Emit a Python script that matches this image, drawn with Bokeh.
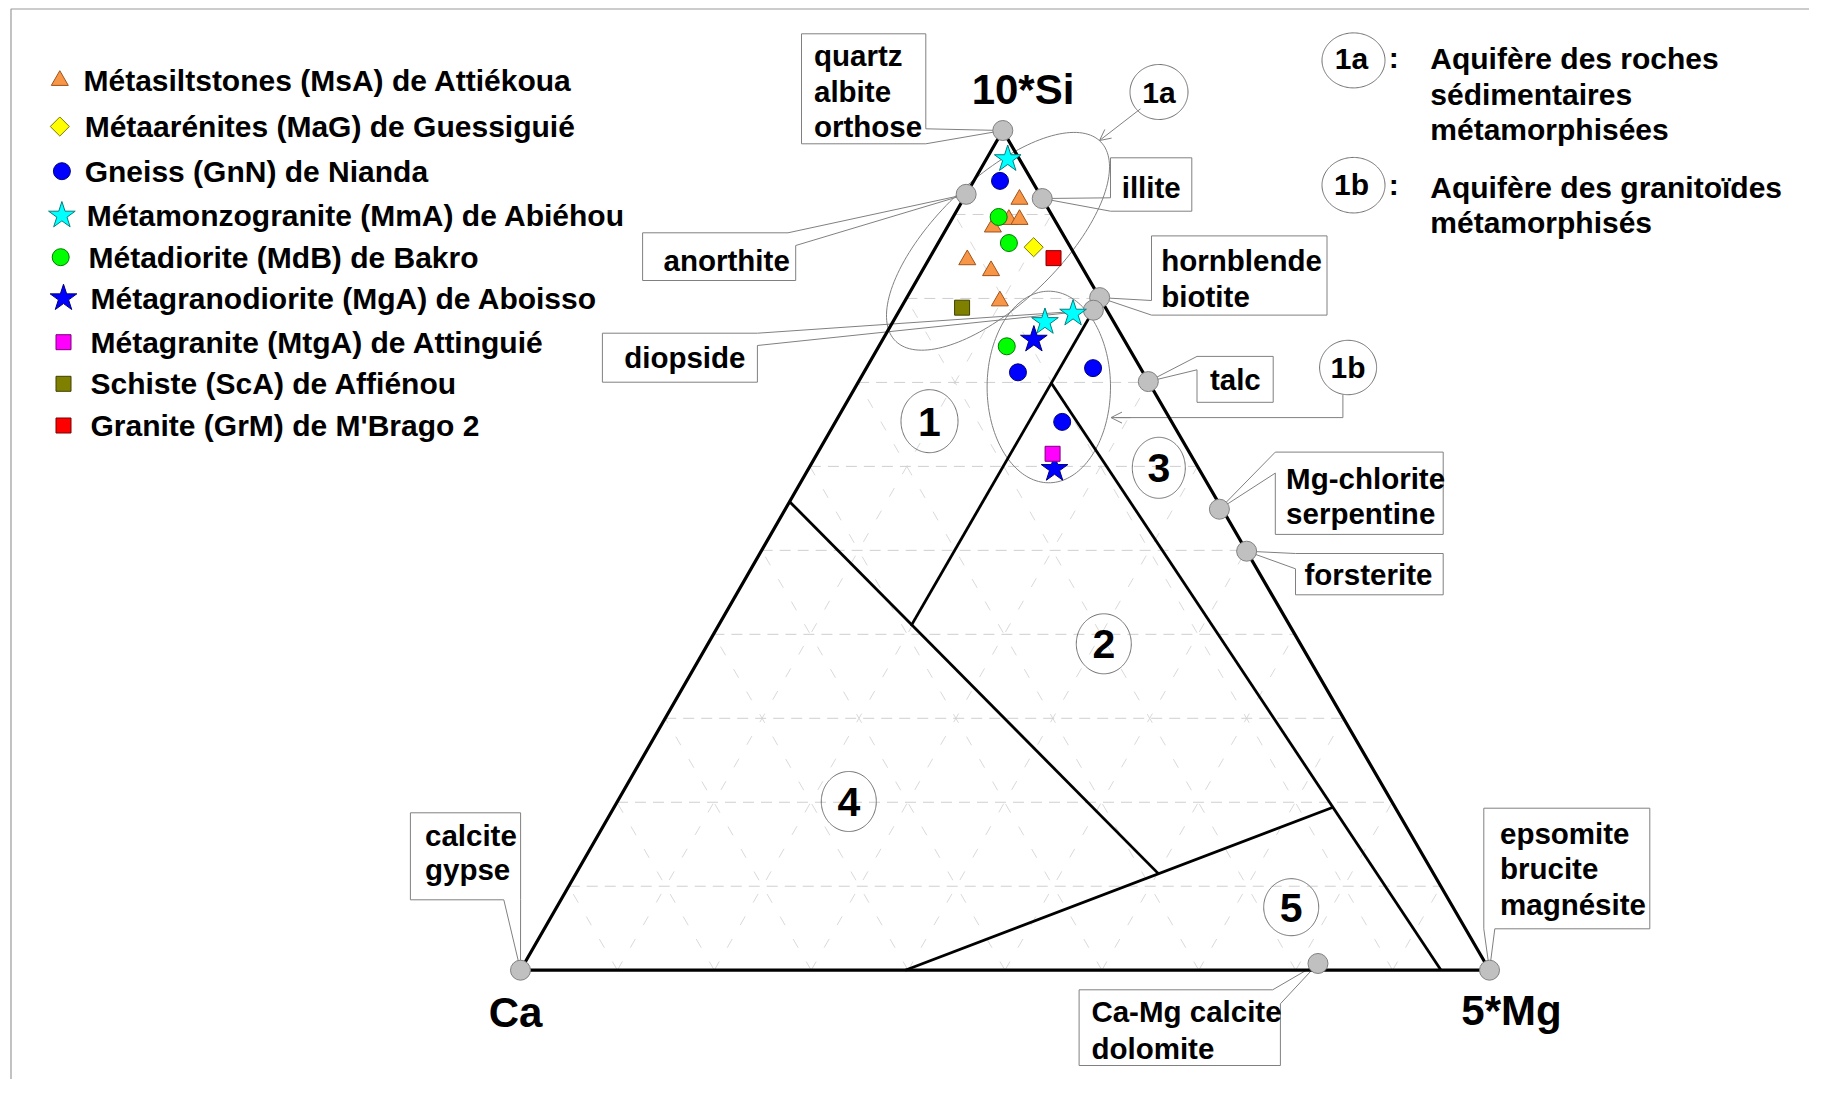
import numpy as np
from bokeh.plotting import figure
from bokeh.models import Range1d, Arrow, OpenHead
from bokeh.core.properties import value
from bokeh.embed import file_html
from bokeh.resources import INLINE

# ------------------------------------------------------------------
# DATA  (compositions in % of the normalised sum 10*Si + Ca + 5*Mg)
# ------------------------------------------------------------------
APEX_LABELS = ["10*Si", "Ca", "5*Mg"]

SERIES_LABELS = [
    "Métasiltstones (MsA) de Attiékoua",
    "Métaarénites (MaG) de Guessiguié",
    "Gneiss (GnN) de Nianda",
    "Métamonzogranite (MmA) de Abiéhou",
    "Métadiorite (MdB) de Bakro",
    "Métagranodiorite (MgA) de Aboisso",
    "Métagranite (MtgA) de Attinguié",
    "Schiste (ScA) de Affiénou",
    "Granite (GrM) de M'Brago 2",
]

MSA_SI = [91.8, 89.4, 89.4, 88.5, 84.6, 83.3, 79.7]
MSA_CA = [2.4, 4.7, 3.6, 6.8, 11.4, 9.6, 10.5]
MSA_MG = [5.8, 5.9, 7.0, 4.7, 4.0, 7.1, 9.8]

MAG_SI = [86.1]
MAG_CA = [3.8]
MAG_MG = [10.1]

GNN_SI = [94.0, 71.2, 71.7, 65.3]
GNN_CA = [3.3, 12.9, 4.9, 11.3]
GNN_MG = [2.7, 15.9, 23.4, 23.4]

MMA_SI = [96.6, 78.2, 77.2]
MMA_CA = [1.2, 3.7, 7.1]
MMA_MG = [2.2, 18.1, 15.7]

MDB_SI = [89.7, 86.6, 74.3]
MDB_CA = [5.6, 6.1, 12.5]
MDB_MG = [4.7, 7.3, 13.2]

MGA_SI = [75.1, 59.7]
MGA_CA = [9.3, 14.9]
MGA_MG = [15.6, 25.4]

MTGA_SI = [61.5]
MTGA_CA = [14.2]
MTGA_MG = [24.3]

SCA_SI = [78.9]
SCA_CA = [14.8]
SCA_MG = [6.3]

GRM_SI = [84.8]
GRM_CA = [2.4]
GRM_MG = [12.8]

MINERAL_LABELS = [
    ["quartz", "albite", "orthose"],
    ["anorthite"],
    ["illite"],
    ["hornblende", "biotite"],
    ["diopside"],
    ["talc"],
    ["Mg-chlorite", "serpentine"],
    ["forsterite"],
    ["calcite", "gypse"],
    ["epsomite", "brucite", "magnésite"],
    ["Ca-Mg calcite", "dolomite"],
]
MINERAL_SI = [100.0, 92.4, 91.9, 80.1, 78.6, 70.1, 54.9, 49.9, 0.0, 0.0, 0.8]
MINERAL_CA = [0.0, 7.6, 0.0, 0.0, 1.4, 0.0, 0.3, 0.0, 100.0, 0.0, 17.3]
MINERAL_MG = [0.0, 0.0, 8.1, 19.9, 20.0, 29.9, 44.8, 50.1, 0.0, 100.0, 81.9]

# field boundaries (start, end)
BOUND_SI = [[55.8, 11.5], [78.6, 41.0], [69.9, 0.0], [0.0, 19.4]]
BOUND_CA = [[44.2, 28.4], [1.4, 39.1], [10.1, 5.0], [60.3, 6.4]]
BOUND_MG = [[0.0, 60.1], [20.0, 19.9], [20.0, 95.0], [39.7, 74.2]]

GRID_LEVELS = [10, 20, 30, 40, 50, 60, 70, 80, 90]

FIELD_LABELS = ["1", "2", "3", "4", "5"]
GROUP_LABELS = ["1a", "1b"]
GROUP_TEXT = [["Aquifère des roches", "sédimentaires", "métamorphisées"],
              ["Aquifère des granitoïdes", "métamorphisés"]]

# ------------------------------------------------------------------
# LAYOUT (data range == screenshot pixel coordinates)
# ------------------------------------------------------------------
SI_XY = (1002.3, 130.0)
CA_XY = (520.0, 969.7)
MG_XY = (1489.0, 969.7)

FONT = value("Liberation Sans")


def tern(si, ca, mg):
    si = np.asarray(si, dtype=float)
    ca = np.asarray(ca, dtype=float)
    mg = np.asarray(mg, dtype=float)
    tot = si + ca + mg
    x = (si * SI_XY[0] + ca * CA_XY[0] + mg * MG_XY[0]) / tot
    y = (si * SI_XY[1] + ca * CA_XY[1] + mg * MG_XY[1]) / tot
    return x, y


def ellipse_pts(cx, cy, a, b, ang_deg=0.0, n=160):
    t = np.linspace(0, 2 * np.pi, n)
    ang = np.radians(ang_deg)
    ux, uy = np.cos(ang), -np.sin(ang)
    vx, vy = np.sin(ang), np.cos(ang)
    x = cx + a * np.cos(t) * ux + b * np.sin(t) * vx
    y = cy + a * np.cos(t) * uy + b * np.sin(t) * vy
    return list(x), list(y)


def perim_s(pt, l, t, r, b):
    x, y = pt
    w, h = r - l, b - t
    d = [abs(y - t), abs(x - r), abs(y - b), abs(x - l)]
    e = int(np.argmin(d))
    if e == 0:
        return x - l
    if e == 1:
        return w + (y - t)
    if e == 2:
        return w + h + (r - x)
    return 2 * w + h + (b - y)


def callout_poly(box, p1, p2, target):
    l, t, r, b = box
    w, h = r - l, b - t
    P = 2 * w + 2 * h
    s1 = perim_s(p1, l, t, r, b)
    s2 = perim_s(p2, l, t, r, b)
    span = (s1 - s2) % P
    corners = [(0, (l, t)), (w, (r, t)), (w + h, (r, b)), (2 * w + h, (l, b))]
    corners.sort(key=lambda c: (c[0] - s2) % P)
    pts = [p2]
    for cs, c in corners:
        d = (cs - s2) % P
        if 1e-6 < d < span - 1e-6:
            pts.append(c)
    pts.append(p1)
    pts.append(target)
    return [q[0] for q in pts], [q[1] for q in pts]


# box (l, t, r, b), pointer base points, text x, text line centres
CALLOUTS = [
    dict(box=(801, 33.3, 925.3, 143.3), p1=(925.3, 128.3), p2=(925.3, 143.3), tx=813.5, ty=[55, 90.5, 126]),
    dict(box=(642.1, 232.3, 795.2, 280), p1=(787.5, 232.3), p2=(795.2, 245), tx=663.1, ty=[259.5]),
    dict(box=(1110, 157.3, 1191.3, 210.7), p1=(1110, 210.7), p2=(1110, 197.3), tx=1121.2, ty=[187.3]),
    dict(box=(1151, 235.4, 1326.5, 314.6), p1=(1151, 314.6), p2=(1151, 300), tx=1160.8, ty=[259.7, 295.7]),
    dict(box=(601.9, 332.7, 756.9, 381.7), p1=(756.9, 332.7), p2=(756.9, 345), tx=623.7, ty=[357]),
    dict(box=(1196.5, 355.9, 1272.7, 401.8), p1=(1196.5, 369.3), p2=(1196.5, 355.9), tx=1209.4, ty=[378.8]),
    dict(box=(1274.8, 451.6, 1442.7, 533.9), p1=(1274.8, 472.6), p2=(1274.8, 451.6), tx=1285.6, ty=[478, 512.7]),
    dict(box=(1295, 553, 1442.7, 594.3), p1=(1295, 568.3), p2=(1295, 553), tx=1304, ty=[573.5]),
    dict(box=(409.9, 812.3, 520.1, 899.3), p1=(520.1, 899.3), p2=(503.3, 899.3), tx=424.5, ty=[835, 869]),
    dict(box=(1483.3, 807.7, 1649.3, 928.3), p1=(1494.3, 928.3), p2=(1483.3, 928.3), tx=1499.5, ty=[832.5, 868, 903.5]),
    dict(box=(1078.6, 989.3, 1279.9, 1065), p1=(1272.2, 989.3), p2=(1279.9, 1003.3), tx=1090.9, ty=[1011, 1047.5]),
]

SAMPLES = [
    (MSA_SI, MSA_CA, MSA_MG),
    (MAG_SI, MAG_CA, MAG_MG),
    (GNN_SI, GNN_CA, GNN_MG),
    (MMA_SI, MMA_CA, MMA_MG),
    (MDB_SI, MDB_CA, MDB_MG),
    (MGA_SI, MGA_CA, MGA_MG),
    (MTGA_SI, MTGA_CA, MTGA_MG),
    (SCA_SI, SCA_CA, SCA_MG),
    (GRM_SI, GRM_CA, GRM_MG),
]
# marker, fill, outline, size, angle
STYLES = [
    ("triangle", "#F79646", "#A0521A", 17, 0.0),
    ("square", "#FFFF00", "#7A7A00", 13.5, np.pi / 4),
    ("circle", "#0000FF", "#00007A", 17, 0.0),
    ("star", "#00FFFF", "#007F7F", 28, 0.0),
    ("circle", "#00FF00", "#007A00", 17, 0.0),
    ("star", "#0000FF", "#00007A", 28, 0.0),
    ("square", "#FF00FF", "#7A007A", 15, 0.0),
    ("square", "#808000", "#404000", 15, 0.0),
    ("square", "#FF0000", "#7A0000", 15, 0.0),
]
LEG_MX = [59.3, 59.3, 61.4, 61.4, 60.2, 63, 63, 63, 63]
LEG_TX = [83, 84.2, 84.2, 86.3, 88, 90, 90, 90, 90]
LEG_Y = [80, 126, 170.7, 215, 256.7, 297.7, 341.7, 383.3, 425]

FIELD_POS = [(929, 420.7, 57, 63), (1103.3, 643.3, 55, 60), (1158.3, 467.3, 53, 61),
             (848.3, 801, 55, 60), (1290.7, 906.7, 55, 57)]
GROUP_POS = [(1158.5, 91.5, 58, 55), (1347.6, 367.0, 57, 54.4)]
KEY_POS = [(1353, 59.9, 63, 55), (1353, 184.7, 63, 55.5)]
KEY_TEXT_Y = [[58.3, 94.0, 129.3], [187.4, 222.3]]

# ------------------------------------------------------------------
p = figure(width=1809, height=1079,
           x_range=Range1d(0, 1809), y_range=Range1d(1079, 0),
           x_axis_type=None, y_axis_type=None,
           toolbar_location=None, output_backend="svg", min_border=0,
           background_fill_color="white", border_fill_color="white",
           outline_line_color=None)

GREY = "#808080"

# frame lines (top and left) of the original drawing
p.line([10.5, 10.5, 1809], [1079, 8.5, 8.5], line_color="#9a9a9a", line_width=1.2)

# --- ternary grid ---
hx, hy, dx, dy = [], [], [], []
for k in GRID_LEVELS:
    x, y = tern([k, k], [100 - k, 0], [0, 100 - k])
    hx.append(list(x)); hy.append(list(y))
    x, y = tern([0, 100 - k], [100 - k, 0], [k, k])
    dx.append(list(x)); dy.append(list(y))
    x, y = tern([0, 100 - k], [k, k], [100 - k, 0])
    dx.append(list(x)); dy.append(list(y))
p.multi_line(dx, dy, line_color="#d9d9d9", line_width=1, line_dash="10 16")
p.multi_line(hx, hy, line_color="#cfcfcf", line_width=1, line_dash="11 7")

# --- callout boxes ---
mx, my = tern(MINERAL_SI, MINERAL_CA, MINERAL_MG)
cxs, cys = [], []
for i, c in enumerate(CALLOUTS):
    xs, ys = callout_poly(c["box"], c["p1"], c["p2"], (mx[i], my[i]))
    cxs.append(xs); cys.append(ys)
p.patches(cxs, cys, fill_color="white", line_color=GREY, line_width=1)

# --- group ellipses & arrows ---
ex, ey = ellipse_pts(997.5, 240.8, 143, 62, 44)
p.line(ex, ey, line_color=GREY, line_width=1)
ex, ey = ellipse_pts(1048.3, 386.5, 61.7, 95.8, 0)
p.line(ex, ey, line_color=GREY, line_width=1)
p.add_layout(Arrow(end=OpenHead(size=11, line_color=GREY, line_width=1),
                   x_start=1140, y_start=108.3, x_end=1099, y_end=140,
                   line_color=GREY, line_width=1))
p.line([1342.4, 1342.4, 1115], [394.2, 417.1, 417.1], line_color=GREY, line_width=1)
p.add_layout(Arrow(end=OpenHead(size=11, line_color=GREY, line_width=1),
                   x_start=1130, y_start=417.1, x_end=1110.5, y_end=417.1,
                   line_color=GREY, line_width=1))

for (cx, cy, w, h) in FIELD_POS + GROUP_POS + KEY_POS:
    ex, ey = ellipse_pts(cx, cy, w / 2, h / 2)
    p.line(ex, ey, line_color="#707070", line_width=1)

# --- triangle and field boundaries ---
tx, ty = tern([100, 0, 0, 100], [0, 100, 0, 0], [0, 0, 100, 0])
p.line(list(tx), list(ty), line_color="black", line_width=3.2)
bxs, bys = [], []
for i in range(len(BOUND_SI)):
    x, y = tern(BOUND_SI[i], BOUND_CA[i], BOUND_MG[i])
    bxs.append(list(x)); bys.append(list(y))
p.multi_line(bxs, bys, line_color="black", line_width=2.8)

# --- mineral points ---
p.scatter(mx, my, marker="circle", size=20, fill_color="#c0c0c0", line_color="#808080", line_width=1)

# --- samples ---
for (si, ca, mg), (mk, fc, lc, sz, an) in zip(SAMPLES, STYLES):
    x, y = tern(si, ca, mg)
    p.scatter(x, y, marker=mk, size=sz, angle=an, fill_color=fc, line_color=lc, line_width=1)

# --- legend (left) ---
for i, (mk, fc, lc, sz, an) in enumerate(STYLES):
    p.scatter([LEG_MX[i]], [LEG_Y[i]], marker=mk, size=sz, angle=an,
              fill_color=fc, line_color=lc, line_width=1)
p.text(LEG_TX, LEG_Y, text=SERIES_LABELS, text_font=FONT, text_font_style="bold",
       text_font_size="30px", text_align="left", text_baseline="middle", text_color="black")

# --- callout texts ---
lx, ly, lt = [], [], []
for c, lines in zip(CALLOUTS, MINERAL_LABELS):
    for yy, s in zip(c["ty"], lines):
        lx.append(c["tx"]); ly.append(yy); lt.append(s)
p.text(lx, ly, text=lt, text_font=FONT, text_font_style="bold", text_font_size="29.5px",
       text_align="left", text_baseline="middle", text_color="black")

# --- apex labels ---
p.text([1022.5, 515, 1511], [89.0, 1012.3, 1009.5], text=APEX_LABELS, text_font=FONT,
       text_font_style="bold", text_font_size="42px", text_align="center",
       text_baseline="middle", text_color="black")

# --- field numbers ---
p.text([q[0] for q in FIELD_POS], [q[1] + 0.5 for q in FIELD_POS], text=FIELD_LABELS,
       text_font=FONT, text_font_style="bold", text_font_size="41px", text_align="center",
       text_baseline="middle", text_color="black")

# --- group labels in diagram and key ---
p.text([q[0] for q in GROUP_POS] + [q[0] - 2 for q in KEY_POS],
       [q[1] for q in GROUP_POS] + [58, 183.5],
       text=GROUP_LABELS + GROUP_LABELS, text_font=FONT, text_font_style="bold",
       text_font_size="30px", text_align="center", text_baseline="middle", text_color="black")
p.text([1393.2, 1393.2], [57, 184], text=[":", ":"], text_font=FONT, text_font_style="bold",
       text_font_size="30px", text_align="center", text_baseline="middle", text_color="black")
kx, ky, kt = [], [], []
for lines, ys in zip(GROUP_TEXT, KEY_TEXT_Y):
    for s, yy in zip(lines, ys):
        kx.append(1429.8); ky.append(yy); kt.append(s)
p.text(kx, ky, text=kt, text_font=FONT, text_font_style="bold", text_font_size="30px",
       text_align="left", text_baseline="middle", text_color="black")

open("out.html", "w").write(file_html(p, INLINE))
